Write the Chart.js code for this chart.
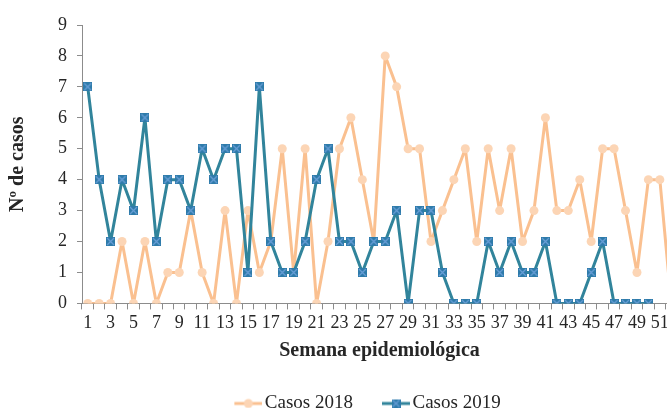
<!DOCTYPE html>
<html>
<head>
<meta charset="utf-8">
<script src="https://cdn.jsdelivr.net/npm/chart.js@4"></script>
<style>
  html, body { margin: 0; padding: 0; background: #fff; overflow: hidden; }
  #wrap { position: relative; width: 726px; height: 423px; }
</style>
</head>
<body>
<div id="wrap"><canvas id="c"></canvas></div>
<script>
const semanas = ['1','2','3','4','5','6','7','8','9','10','11','12','13','14','15','16','17','18','19','20','21','22','23','24','25','26','27','28','29','30','31','32','33','34','35','36','37','38','39','40','41','42','43','44','45','46','47','48','49','50','51','52'];
const casos2018 = [0,0,0,2,0,2,0,1,1,3, 1,0,3,0,3,1,2,5,1,5, 0,2,5,6,4,2,8,7,5,5, 2,3,4,5,2,5,3,5,2,3, 6,3,3,4,2,5,5,3,1,4, 4,0];
const casos2019 = [7,4,2,4,3,6,2,4,4,3, 5,4,5,5,1,7,2,1,1,2, 4,5,2,2,1,2,2,3,0,3, 3,1,0,0,0,2,1,2,1,1, 2,0,0,0,1,2,0,0,0,0, null,null];
const xTickLabels = ['1','3','5','7','9','11','13','15','17','19','21','23','25','27','29','31','33','35','37','39','41','43','45','47','49','51'];
const yTickLabels = ['0','1','2','3','4','5','6','7','8','9'];
const serieNames = ['Casos 2018', 'Casos 2019'];

const ORANGE_LINE = '#FAC090';
const ORANGE_PT = '#FCD5B5';
const BLUE_LINE = '#31849B';
const BLUE_PT = '#2E7BAA';
const BLUE_X = '#6A9FD8';
const AXIS = '#8C8C8C';
const TEXT = '#262626';
const FONT = "'Liberation Serif', 'Times New Roman', serif";

function squareMarker() {
  const s = 9;
  const c = document.createElement('canvas');
  c.width = s; c.height = s;
  const g = c.getContext('2d');
  g.fillStyle = BLUE_PT;
  g.fillRect(0, 0, s, s);
  g.strokeStyle = BLUE_X;
  g.lineWidth = 1.2;
  g.beginPath();
  g.moveTo(1, 1); g.lineTo(s - 1, s - 1);
  g.moveTo(s - 1, 1); g.lineTo(1, s - 1);
  g.stroke();
  return c;
}

function legendImage(kind) {
  const w = 44, h = 12;
  const c = document.createElement('canvas');
  c.width = w; c.height = h;
  const g = c.getContext('2d');
  const x0 = w - 28, cy = h / 2;
  g.strokeStyle = kind === 0 ? ORANGE_LINE : BLUE_LINE;
  g.lineWidth = 3;
  g.beginPath(); g.moveTo(x0, cy); g.lineTo(w, cy); g.stroke();
  const mx = x0 + 14;
  if (kind === 0) {
    g.fillStyle = ORANGE_PT;
    g.beginPath(); g.arc(mx, cy, 4.5, 0, Math.PI * 2); g.fill();
  } else {
    g.drawImage(squareMarker(), mx - 4.5, cy - 4.5);
  }
  return c;
}

const blueMarker = squareMarker();

new Chart(document.getElementById('c'), {
  type: 'line',
  data: {
    labels: semanas,
    datasets: [
      {
        label: serieNames[0],
        data: casos2018,
        borderColor: ORANGE_LINE,
        backgroundColor: ORANGE_PT,
        borderWidth: 3,
        borderJoinStyle: 'round',
        pointStyle: 'circle',
        pointRadius: 4.5,
        pointBackgroundColor: ORANGE_PT,
        pointBorderColor: ORANGE_PT,
        pointBorderWidth: 0,
        tension: 0,
        order: 1
      },
      {
        label: serieNames[1],
        data: casos2019,
        borderColor: BLUE_LINE,
        backgroundColor: BLUE_PT,
        borderWidth: 3,
        borderJoinStyle: 'round',
        pointStyle: blueMarker,
        pointRadius: 4.5,
        tension: 0,
        spanGaps: false,
        order: 0
      }
    ]
  },
  options: {
    responsive: true,
    maintainAspectRatio: false,
    animation: false,
    devicePixelRatio: 1,
    layout: { padding: { top: 25, left: 0, right: 0, bottom: 0 } },
    plugins: {
      tooltip: { enabled: false },
      legend: {
        position: 'bottom',
        labels: {
          usePointStyle: true,
          pointStyleWidth: 30,
          padding: 20,
          color: TEXT,
          font: { family: FONT, size: 19 },
          generateLabels: () => serieNames.map((t, i) => ({
            text: t,
            pointStyle: legendImage(i),
            fillStyle: 'transparent',
            strokeStyle: 'transparent',
            lineWidth: 0,
            fontColor: TEXT,
            hidden: false,
            datasetIndex: i
          }))
        }
      }
    },
    scales: {
      x: {
        type: 'category',
        offset: true,
        grid: { offset: true, drawOnChartArea: false, drawTicks: true, tickLength: 6, color: AXIS },
        border: { display: true, color: AXIS, width: 1 },
        ticks: {
          autoSkip: false,
          maxRotation: 0,
          minRotation: 0,
          padding: 3,
          color: TEXT,
          font: { family: FONT, size: 18 },
          callback: function (v, i) {
            const lab = this.getLabelForValue(v);
            return xTickLabels.includes(lab) ? lab : '';
          }
        },
        title: {
          display: true,
          text: 'Semana epidemiológica',
          color: TEXT,
          font: { family: FONT, size: 20, weight: 'bold' },
          padding: { top: 2, bottom: 11 }
        }
      },
      y: {
        type: 'linear',
        min: 0,
        max: 9,
        grid: { drawOnChartArea: false, drawTicks: true, tickLength: 5, color: AXIS },
        border: { display: true, color: AXIS, width: 1 },
        ticks: {
          stepSize: 1,
          padding: 10,
          color: TEXT,
          font: { family: FONT, size: 18 },
          callback: (v) => yTickLabels[v]
        },
        title: {
          display: true,
          text: 'Nº de casos',
          color: TEXT,
          font: { family: FONT, size: 20, weight: 'bold' },
          padding: { top: 6, bottom: 18 }
        }
      },
      yR: {
        type: 'linear',
        position: 'right',
        display: true,
        grid: { display: false, drawTicks: false },
        border: { display: false },
        ticks: { display: false },
        afterFit: (s) => { s.width = 49; }
      }
    }
  }
});
</script>
</body>
</html>
